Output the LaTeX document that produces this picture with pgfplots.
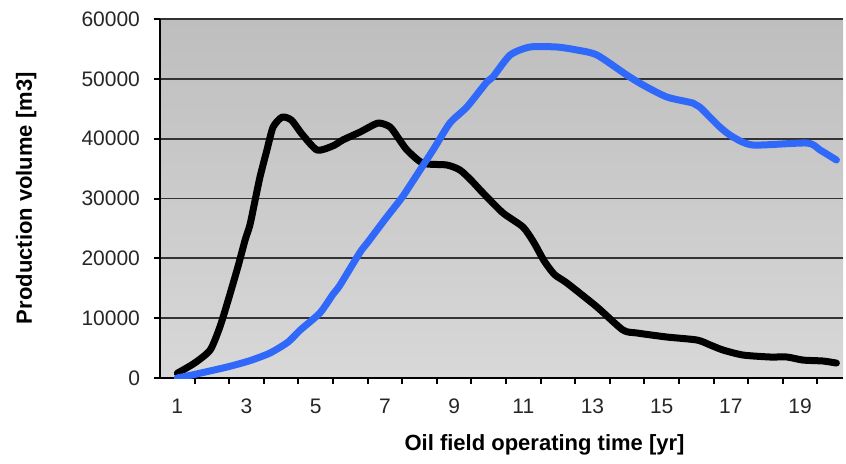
\documentclass[border=0pt]{standalone}
\usepackage{pgfplots}
\pgfplotsset{compat=1.18}
\usepackage{fontspec}
\setmainfont{Liberation Sans}
\definecolor{bluel}{RGB}{48,105,250}
\definecolor{bgtop}{RGB}{190,190,190}
\definecolor{bgbot}{RGB}{216,216,216}
\begin{document}
\begin{tikzpicture}
\path[use as bounding box] (-80pt,-42.5pt) rectangle (343pt,189pt);
\begin{axis}[
  scale only axis, width=341.5pt, height=179.5pt,
  xmin=0.5, xmax=20.24, ymin=0, ymax=60000,
  axis lines*=left,
  axis line style={black, line width=1pt, shorten >=0pt},
  axis background/.style={shade, top color=bgtop, bottom color=bgbot},
  xtick={1,3,...,19}, minor xtick={1.5,2.5,...,19.5},
  ytick={0,10000,...,60000},
  tick align=outside,
  major tick length=3pt, minor tick length=3pt,
  tick style={black, line width=1pt},
  major x tick style={draw=none},
  ymajorgrids, grid style={color=black!80, line width=0.85pt},
  scaled y ticks=false,
  /pgf/number format/assume math mode=true,
  yticklabel style={/pgf/number format/1000 sep={}, font=\fontsize{10.5}{12}\selectfont, text=black!85, xshift=-3.5pt},
  xticklabel style={font=\fontsize{10.5}{12}\selectfont, text=black!85, yshift=-4pt},
  every axis x label/.style={at={(axis description cs:0.563,-0.185)}, anchor=center},
  every axis y label/.style={at={(axis description cs:-0.196,0.501)}, anchor=center, rotate=90},
  xlabel={\fontsize{11}{13}\selectfont\bfseries Oil field operating time [yr]},
  ylabel={\fontsize{11}{13}\selectfont\bfseries Production volume [m3]},
]
\addplot[black, line width=3.5pt, line join=round, line cap=round, smooth, tension=0.4] coordinates {
(1,800) (1.5,2500) (1.95,4680) (2.23,8520) (2.47,13000) (2.75,18550) (2.96,23060) (3.1,25600) (3.25,29750) (3.39,33600) (3.59,38100) (3.77,41950) (4.03,43600) (4.3,43100) (4.6,40800) (5.04,38100) (5.5,38800) (5.79,39800) (6.28,41100) (6.8,42600) (7.15,41950) (7.4,40000) (7.64,38100) (8.1,35900) (8.79,35600) (9.17,34760) (9.5,33000) (9.84,30900) (10.41,27600) (10.99,25240) (11.3,22700) (11.6,19600) (11.9,17300) (12.26,15880) (13.13,11870) (13.88,8020) (14.29,7520) (15.15,6850) (16.02,6350) (16.4,5520) (16.77,4680) (17.35,3840) (18.13,3510) (18.62,3510) (19.08,3000) (19.66,2840) (20.05,2500)
};
\addplot[bluel, line width=3.5pt, line join=round, line cap=round, smooth, tension=0.4] coordinates {
(1,0) (1.5,600) (2.44,1840) (3.1,2900) (3.68,4180) (4.2,6000) (4.55,8000) (5.12,10860) (5.5,14000) (5.7,15500) (6.28,21000) (6.48,22500) (7.0,26500) (7.44,29750) (7.64,31420) (8.39,38100) (8.88,42620) (9.37,45290) (9.95,49500) (10.12,50300) (10.62,53980) (11.19,55320) (11.97,55320) (12.55,54820) (13.13,53980) (13.99,50640) (14.46,48970) (15.15,46960) (15.9,45960) (16.1,45290) (16.68,41950) (17.06,40280) (17.64,38940) (19.2,39270) (19.58,38100) (20.05,36430)
};
\end{axis}
\end{tikzpicture}
\end{document}
